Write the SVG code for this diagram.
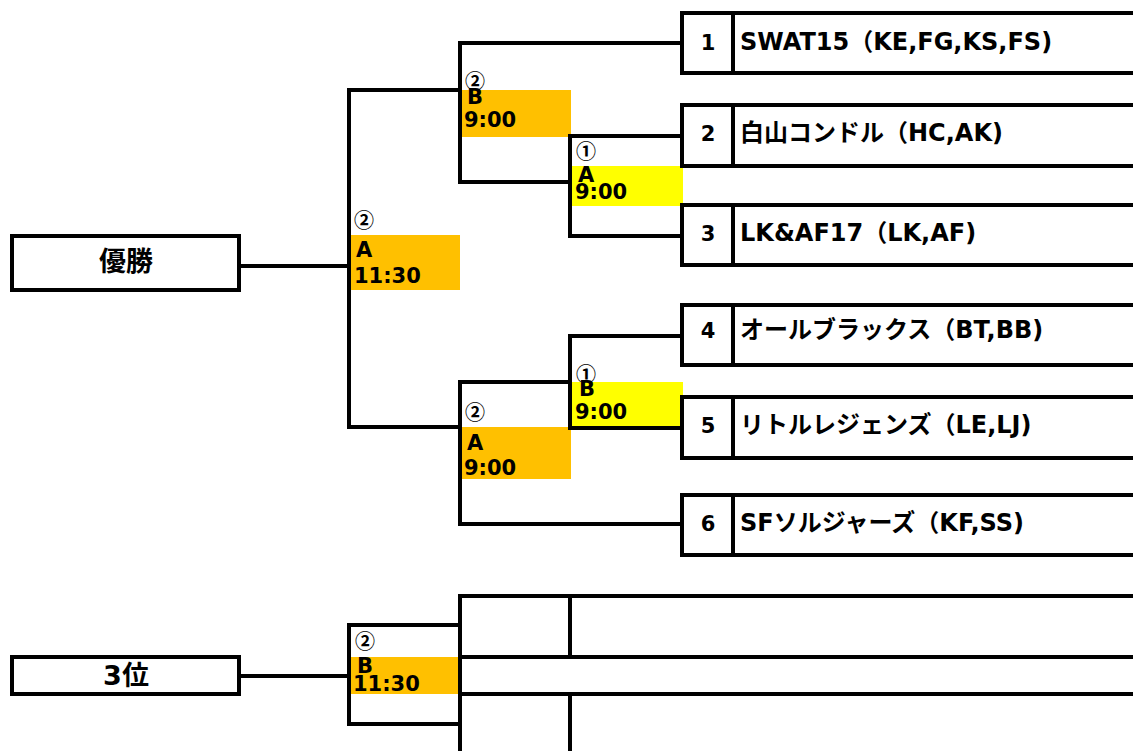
<svg xmlns="http://www.w3.org/2000/svg" width="1133" height="751" viewBox="0 0 1133 751">
<style>
.ln{fill:none;stroke:#000;stroke-width:4;stroke-linecap:square}
.box{fill:#fff;stroke:#000;stroke-width:4}
.or{fill:#FFC000}
.ye{fill:#FFFF00}
.t{font-family:"DejaVu Sans","Noto Sans CJK JP",sans-serif;font-weight:bold;fill:#000}
.name{font-size:24px}
.num{font-size:21px;text-anchor:middle}
.lab{font-size:21px}
.tm{font-size:21px}
.circ{font-family:"Noto Sans CJK JP",sans-serif;font-weight:bold;font-size:20px;fill:#000}
.big{font-size:27px;text-anchor:middle}
</style>
<rect width="1133" height="751" fill="#fff"/>

<!-- circled numbers (partly covered by fills) -->
<g id="circles">
<text class="circ" x="354" y="228">②</text>
<text class="circ" x="465" y="89">②</text>
<text class="circ" x="576" y="159">①</text>
<text class="circ" x="576" y="382">①</text>
<text class="circ" x="465" y="420">②</text>
<text class="circ" x="355" y="649">②</text>
</g>

<!-- match fills -->
<g id="fills">
<rect class="or" x="351" y="235" width="109" height="55"/>
<rect class="or" x="462" y="90" width="109" height="47"/>
<rect class="ye" x="572" y="166" width="111" height="40"/>
<rect class="ye" x="572" y="382" width="111" height="45"/>
<rect class="or" x="462" y="427" width="109" height="52"/>
<rect class="or" x="351" y="657" width="109" height="37"/>
</g>

<g id="connectors">
<path class="ln" d="M239 266H349M349 90V427M349 90H460M349 427H460"/>
<path class="ln" d="M460 43V182M460 43H681M460 182H570M570 136V236M570 136H681M570 236H681"/>
<path class="ln" d="M460 382V524M460 382H570M460 524H681M570 336V428M570 336H681M570 428H681"/>
<path class="ln" d="M239 676H349M349 625V724M349 625H460M349 724H460"/>
<path class="ln" d="M460 596V760M460 596H1140M460 657H1140M460 694H1140M570 596V657M570 694V760"/>
</g>

<g id="champion">
<rect class="box" x="12" y="236" width="227" height="54"/>
<text class="t big" x="126" y="271">優勝</text>
</g>
<g id="third">
<rect class="box" x="12" y="657" width="227" height="37"/>
<text class="t big" x="126" y="685">3位</text>
</g>

<g id="team1">
<rect class="box" x="682" y="13" width="470" height="60"/>
<path class="ln" d="M733 13V73"/>
<text class="t num" x="708" y="50">1</text>
<text class="t name" x="740" y="50">SWAT15（KE,FG,KS,FS)</text>
</g>
<g id="team2">
<rect class="box" x="682" y="105" width="470" height="61"/>
<path class="ln" d="M733 105V166"/>
<text class="t num" x="708" y="141">2</text>
<text class="t name" x="740" y="141">白山コンドル（HC,AK)</text>
</g>
<g id="team3">
<rect class="box" x="682" y="205" width="470" height="60"/>
<path class="ln" d="M733 205V265"/>
<text class="t num" x="708" y="241">3</text>
<text class="t name" x="740" y="241">LK&amp;AF17（LK,AF)</text>
</g>
<g id="team4">
<rect class="box" x="682" y="305" width="470" height="60"/>
<path class="ln" d="M733 305V365"/>
<text class="t num" x="708" y="338">4</text>
<text class="t name" x="740" y="338">オールブラックス（BT,BB)</text>
</g>
<g id="team5">
<rect class="box" x="682" y="397" width="470" height="61"/>
<path class="ln" d="M733 397V458"/>
<text class="t num" x="708" y="433">5</text>
<text class="t name" x="740" y="433">リトルレジェンズ（LE,LJ)</text>
</g>
<g id="team6">
<rect class="box" x="682" y="495" width="470" height="60"/>
<path class="ln" d="M733 495V555"/>
<text class="t num" x="708" y="531">6</text>
<text class="t name" x="740" y="531">SFソルジャーズ（KF,SS)</text>
</g>

<g id="labels">
<text class="t lab" x="356" y="257">A</text>
<text class="t tm" x="354" y="283">11:30</text>
<text class="t lab" x="467" y="104">B</text>
<text class="t tm" x="464" y="127">9:00</text>
<text class="t lab" x="578" y="182">A</text>
<text class="t tm" x="575" y="199">9:00</text>
<text class="t lab" x="579" y="396">B</text>
<text class="t tm" x="575" y="419">9:00</text>
<text class="t lab" x="467" y="450">A</text>
<text class="t tm" x="464" y="475">9:00</text>
<text class="t lab" x="357" y="673">B</text>
<text class="t tm" x="353" y="691">11:30</text>
</g>
</svg>
